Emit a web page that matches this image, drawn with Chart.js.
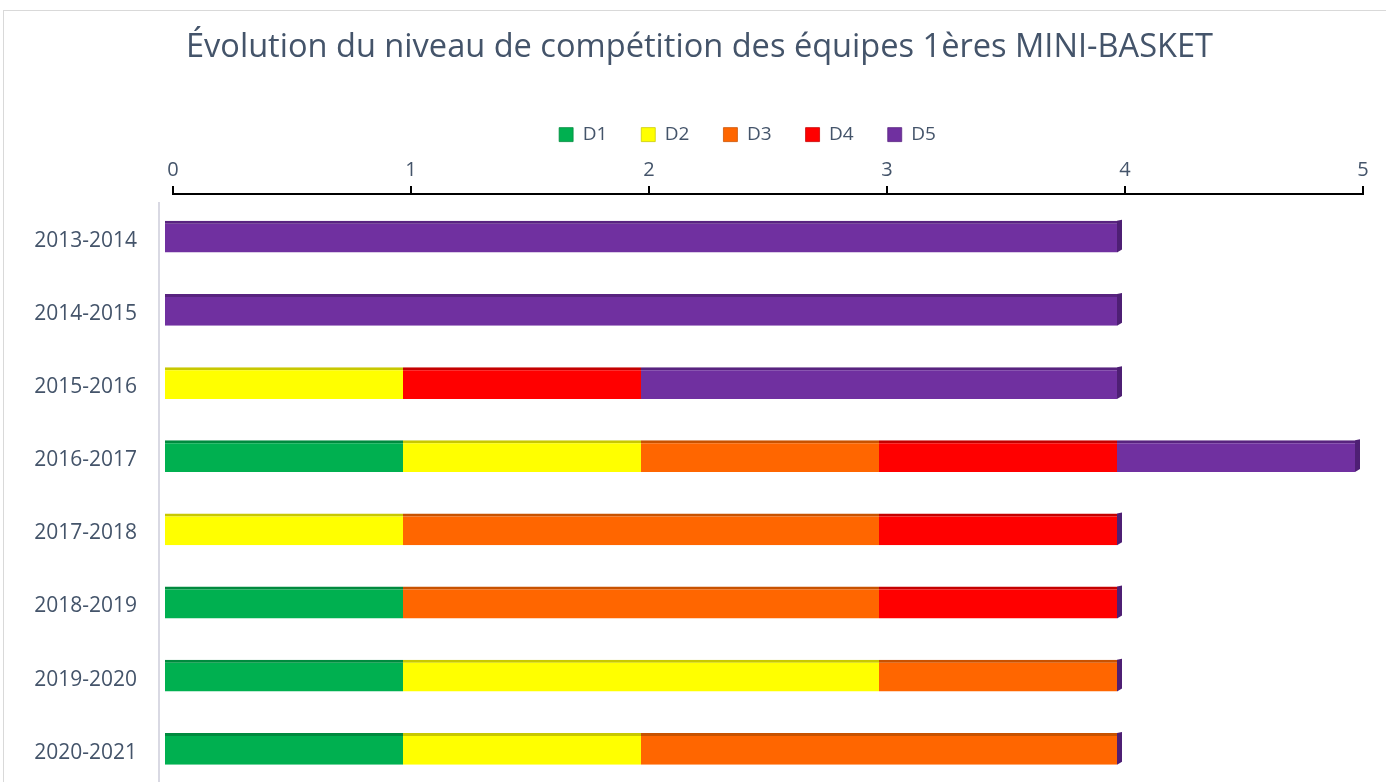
<!DOCTYPE html>
<html>
<head>
<meta charset="utf-8">
<script src="https://cdn.jsdelivr.net/npm/chart.js@4.4.0/dist/chart.umd.min.js"></script>
<style>
    html, body { margin: 0; padding: 0; background: #fff; overflow: hidden; }
    #frame { position: absolute; left: 3px; top: 10px; width: 1400px; height: 800px; border: 1px solid #d9d9d9; }
    #chart { position: absolute; left: 0; top: 0; }
</style>
</head>
<body>
<div id="frame"></div>
<canvas id="chart" width="1386" height="802"></canvas>
<script>
// Saisons et nombre d'équipes par division
const seasons = ["2013-2014", "2014-2015", "2015-2016", "2016-2017", "2017-2018", "2018-2019", "2019-2020", "2020-2021"];
const d1 = [0, 0, 0, 1, 0, 1, 1, 1];
const d2 = [0, 0, 1, 1, 1, 0, 2, 1];
const d3 = [0, 0, 0, 1, 2, 2, 1, 2];
const d4 = [0, 0, 1, 1, 1, 1, 0, 0];
const d5 = [4, 4, 2, 1, 0, 0, 0, 0];
const xTicks = [0, 1, 2, 3, 4, 5];

const FONT = "'Open Sans', 'Noto Sans', sans-serif";
const SHIFT_X = 8;  // décalage de perspective des barres 3D
const SHIFT_Y = 4;
const AXIS_GAP = 10; // écart entre l'axe du haut et la zone de tracé

const series = [
    { label: "D1", data: d1, color: "#00B050", edge: "#008a3e" },
    { label: "D2", data: d2, color: "#FFFF00", edge: "#c8c800" },
    { label: "D3", data: d3, color: "#FF6600", edge: "#c85200" },
    { label: "D4", data: d4, color: "#FF0000", edge: "#c40000" },
    { label: "D5", data: d5, color: "#7030A0", edge: "#58237f" }
];

// faux 3D : barres décalées, face latérale au bout, axes dessinés à la main
const fake3d = {
    id: "fake3d",
    afterLayout(chart) {
        // recentrer titre et légende comme dans Excel
        chart.titleBlock.left += 18;
        chart.titleBlock.right += 18;
        chart.legend.left += 66;
        chart.legend.right += 66;
    },
    beforeDatasetsDraw(chart) {
        const ctx = chart.ctx;
        const area = chart.chartArea;
        const xs = chart.scales.x;
        ctx.save();
        // axe vertical gris clair
        ctx.strokeStyle = "#d9d9e3";
        ctx.lineWidth = 2;
        ctx.beginPath();
        ctx.moveTo(area.left - SHIFT_X - 6, area.top - 2);
        ctx.lineTo(area.left - SHIFT_X - 6, area.bottom);
        ctx.stroke();
        // axe horizontal noir avec graduations vers le haut
        const y0 = area.top - AXIS_GAP;
        ctx.strokeStyle = "#000";
        ctx.beginPath();
        ctx.moveTo(xs.left - 1, y0);
        ctx.lineTo(xs.right + 1, y0);
        xs.ticks.forEach(t => {
            const px = xs.getPixelForValue(t.value);
            ctx.moveTo(px, y0);
            ctx.lineTo(px, y0 - 8);
        });
        ctx.stroke();
        ctx.restore();
        ctx.save();
        ctx.translate(-SHIFT_X, -SHIFT_Y);
    },
    afterDatasetsDraw(chart) {
        const ctx = chart.ctx;
        const last = chart.getDatasetMeta(chart.data.datasets.length - 1);
        ctx.fillStyle = "#4e1f74";
        last.data.forEach(bar => {
            const h = bar.height;
            const top = bar.y - h / 2;
            ctx.beginPath();
            ctx.moveTo(bar.x, top);
            ctx.lineTo(bar.x + 5, top - 1);
            ctx.lineTo(bar.x + 5, top + h - 3);
            ctx.lineTo(bar.x, top + h);
            ctx.closePath();
            ctx.fill();
        });
        ctx.restore();
    }
};

new Chart(document.getElementById("chart"), {
    type: "bar",
    data: {
        labels: seasons,
        datasets: series.map(s => ({
            label: s.label,
            data: s.data,
            backgroundColor: s.color,
            borderColor: s.edge,
            borderWidth: { top: 3, left: 0, right: 0, bottom: 0 },
            borderSkipped: false,
            clip: false,
            barPercentage: 0.62,
            categoryPercentage: 0.7
        }))
    },
    options: {
        indexAxis: "y",
        responsive: false,
        animation: false,
        layout: { padding: { left: 0, right: 23, top: 0, bottom: 0 } },
        plugins: {
            title: {
                display: true,
                text: "Évolution du niveau de compétition des équipes 1ères MINI-BASKET",
                color: "#44546a",
                font: { family: FONT, size: 32.6, weight: "normal" },
                padding: { top: 28, bottom: 24 }
            },
            legend: {
                position: "top",
                labels: {
                    color: "#44546a",
                    font: { family: FONT, size: 19 },
                    boxWidth: 14,
                    boxHeight: 14,
                    padding: 34
                }
            },
            tooltip: { enabled: false }
        },
        scales: {
            x: {
                position: "top",
                stacked: true,
                min: 0,
                max: 5,
                afterBuildTicks: axis => { axis.ticks = xTicks.map(v => ({ value: v })); },
                ticks: {
                    color: "#44546a",
                    font: { family: FONT, size: 20 },
                    padding: 4
                },
                grid: { display: false, drawTicks: true, tickLength: 8 + AXIS_GAP },
                border: { display: false }
            },
            y: {
                stacked: true,
                afterFit: scale => { scale.width = 173; },
                ticks: {
                    color: "#44546a",
                    font: { family: FONT, size: 21 },
                    padding: 0
                },
                grid: { display: false, drawTicks: true, tickLength: 36 },
                border: { display: false }
            }
        }
    },
    plugins: [fake3d]
});
</script>
</body>
</html>
